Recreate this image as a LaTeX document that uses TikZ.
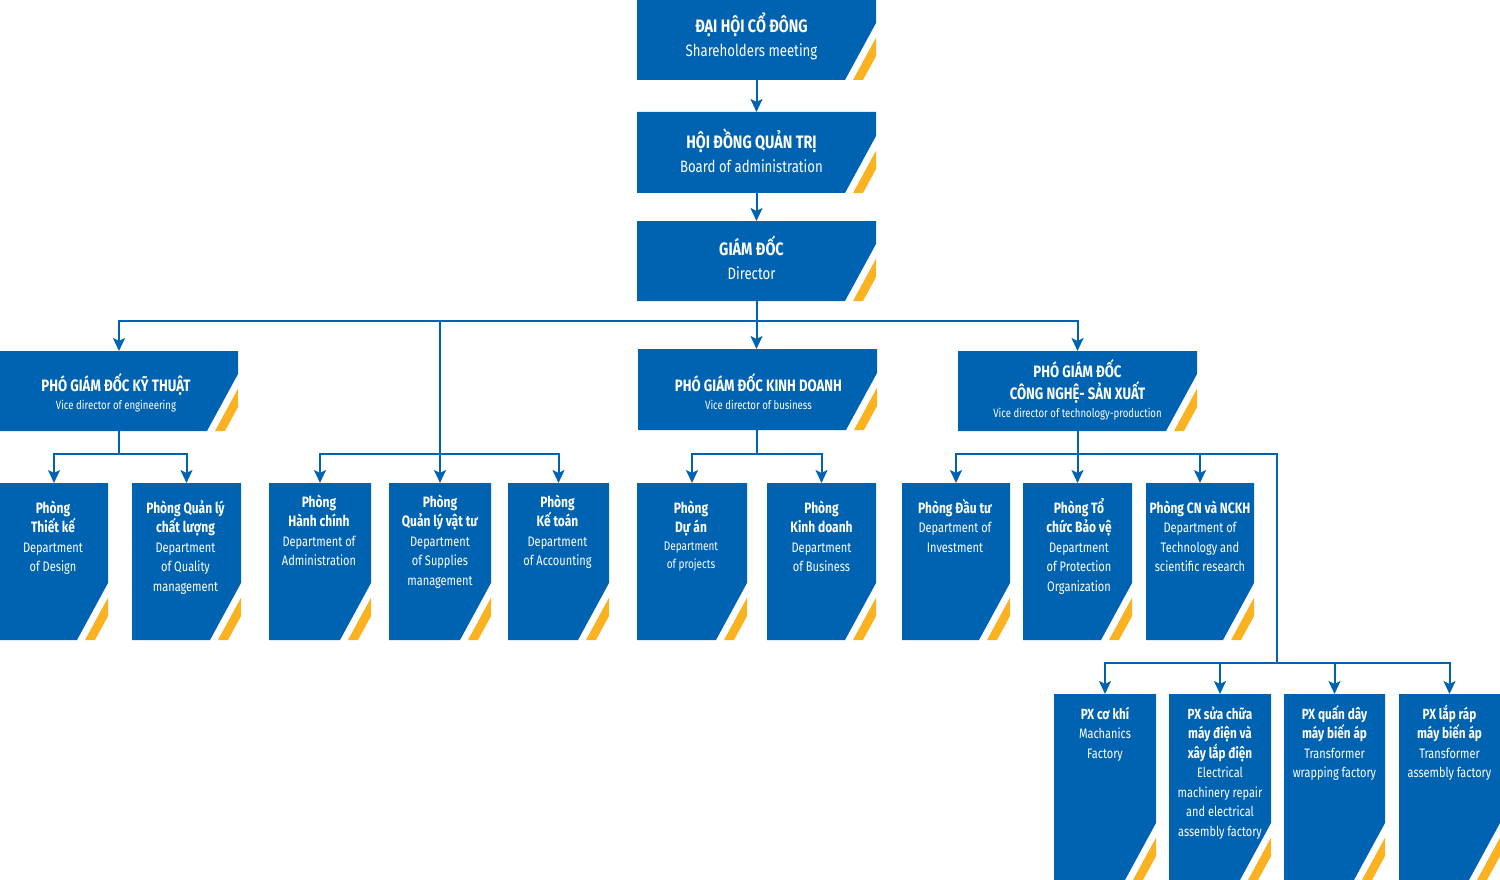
\documentclass[tikz,border=0pt]{standalone}
\usepackage{fontspec}
\setmainfont[FakeStretch=0.8]{Fira Sans}
\usetikzlibrary{arrows.meta,calc}
\definecolor{oblue}{RGB}{0,99,177}
\definecolor{oorange}{RGB}{250,178,32}
\newcommand\boxtext[5]{%
\begin{minipage}[t][#2pt][t]{#1pt}\centering\rightskip=#4pt plus 1fil\relax
\lineskiplimit=-100pt\lineskip=0pt
\vspace*{\dimexpr #3pt - 20pt\relax}\rule{0pt}{20pt}#5\par\end{minipage}}
\newcommand\hf[2]{\fontsize{#1pt}{#2pt}\bfseries\selectfont}
\newcommand\rf[2]{\fontsize{#1pt}{#2pt}\mdseries\selectfont}
\tikzset{
  obox/.style={inner sep=0pt, outer sep=0pt, fill=white, text=white, anchor=north west,
    path picture={
      \fill[oblue] (path picture bounding box.north west) -- (path picture bounding box.north east)
        -- ([yshift=57pt]path picture bounding box.south east) -- ([xshift=-31pt]path picture bounding box.south east)
        -- (path picture bounding box.south west) -- cycle;
      \fill[oorange] ([xshift=-23pt]path picture bounding box.south east) -- ([xshift=-13pt]path picture bounding box.south east)
        -- ([yshift=23.9pt]path picture bounding box.south east) -- ([yshift=42.3pt]path picture bounding box.south east) -- cycle;
    }},
  line/.style={oblue, line width=2pt, line cap=rect},
  conn/.style={oblue, line width=2pt, -{Stealth[length=13pt,width=12pt,inset=3pt]}}
}
\begin{document}
\begin{tikzpicture}[x=1pt,y=-1pt]
\useasboundingbox[fill=white] (0,0) rectangle (1500,880);
\clip (0,0) rectangle (1500,880);
% top chain
\node[obox] (b1) at (637,0) {\boxtext{239}{80}{33}{10}{\hf{18}{24}ĐẠI HỘI CỔ ĐÔNG\\\rf{16.5}{24}Shareholders meeting}};
\node[obox] (b2) at (637,112) {\boxtext{239}{81}{37}{10}{\hf{18}{24}HỘI ĐỒNG QUẢN TRỊ\\\rf{16.5}{24}Board of administration}};
\node[obox] (b3) at (637,221) {\boxtext{239}{80}{35}{10}{\hf{18}{24}GIÁM ĐỐC\\\rf{16.5}{24}Director}};
% vice directors
\node[obox] (v1) at (0,351) {\boxtext{238}{80}{40}{6}{\hf{16.5}{18}PHÓ GIÁM ĐỐC KỸ THUẬT\\\rf{12}{18}Vice director of engineering}};
\node[obox] (v2) at (638,349) {\boxtext{239}{81}{42}{-2}{\hf{16.5}{18}PHÓ GIÁM ĐỐC KINH DOANH\\\rf{12}{18}Vice director of business}};
\node[obox] (v3) at (958,351) {\boxtext{239}{80}{26}{0}{\hf{16.5}{22}PHÓ GIÁM ĐỐC\\CÔNG NGHỆ- SẢN XUẤT\\\rf{12}{18}Vice director of technology-production}};
% departments
\node[obox] (d1) at (0,483) {\boxtext{108}{157}{30}{2}{\hf{15}{19.5}Phòng\\Thiết kế\\\rf{13.8}{19.5}Department\\of Design}};
\node[obox] (d2) at (132,483) {\boxtext{109}{157}{30}{2}{\hf{15}{19.5}Phòng Quản lý\\chất lượng\\\rf{13.8}{19.5}Department\\of Quality\\management}};
\node[obox] (d3) at (269,483) {\boxtext{102}{157}{24}{2}{\hf{15}{19.5}Phòng\\Hành chính\\\rf{13.8}{19.5}Department of\\Administration}};
\node[obox] (d4) at (389,483) {\boxtext{102}{157}{24}{0}{\hf{15}{19.5}Phòng\\Quản lý vật tư\\\rf{13.8}{19.5}Department\\of Supplies\\management}};
\node[obox] (d5) at (508,483) {\boxtext{101}{157}{24}{2}{\hf{15}{19.5}Phòng\\Kế toán\\\rf{13.8}{19.5}Department\\of Accounting}};
\node[obox] (d6) at (637,483) {\boxtext{110}{157}{30}{2}{\hf{15}{19}Phòng\\Dự án\\\rf{12.5}{18}Department\\of projects}};
\node[obox] (d7) at (767,483) {\boxtext{109}{157}{30}{0}{\hf{15}{19.5}Phòng\\Kinh doanh\\\rf{13.8}{19.5}Department\\of Business}};
\node[obox] (d8) at (902,483) {\boxtext{108}{157}{30}{2}{\hf{15}{19.5}Phòng Đầu tư\\\rf{13.8}{19.5}Department of\\Investment}};
\node[obox] (d9) at (1023,483) {\boxtext{109}{157}{30}{-3}{\hf{15}{19.5}Phòng Tổ\\chức Bảo vệ\\\rf{13.8}{19.5}Department\\of Protection\\Organization}};
\node[obox] (d10) at (1146,483) {\boxtext{108}{157}{30}{0}{\hf{15}{19.5}Phòng CN và NCKH\\\rf{13.8}{19.5}Department of\\Technology and\\scientific research}};
% factories
\node[obox] (f1) at (1054,694) {\boxtext{102}{186}{25}{0}{\hf{14.7}{19.5}PX cơ khí\\\rf{13.7}{19.5}Machanics\\Factory}};
\node[obox] (f2) at (1169,694) {\boxtext{102}{186}{25}{0}{\hf{14.7}{19.5}PX sửa chữa\\máy điện và\\xây lắp điện\\\rf{13.7}{19.5}Electrical\\machinery repair\\and electrical\\assembly factory}};
\node[obox] (f3) at (1284,694) {\boxtext{101}{186}{25}{0}{\hf{14.7}{19.5}PX quấn dây\\máy biến áp\\\rf{13.7}{19.5}Transformer\\wrapping factory}};
\node[obox] (f4) at (1399,694) {\boxtext{101}{186}{25}{0}{\hf{14.7}{19.5}PX lắp ráp\\máy biến áp\\\rf{13.7}{19.5}Transformer\\assembly factory}};
% helper coordinates
\coordinate (busy) at (0,321);
\coordinate (r3) at (0,454);
\coordinate (e1) at (1277,454);
\coordinate (e2) at (1277,663);
% connectors
\draw[conn] (b1.south) -- (b2.north);
\draw[conn] (b2.south) -- (b3.north);
\draw[conn] (b3.south) -- (b3.south |- v2.north);
\draw[line] (v1.north |- busy) -- (v3.north |- busy);
\draw[conn] (v1.north |- busy) -- (v1.north);
\draw[conn] (v3.north |- busy) -- (v3.north);
\draw[conn] (d4.north |- busy) -- (d4.north);
% vice director engineering
\draw[line] (v1.south) -- (v1.south |- r3);
\draw[line] (d1.north |- r3) -- (d2.north |- r3);
\draw[conn] (d1.north |- r3) -- (d1.north);
\draw[conn] (d2.north |- r3) -- (d2.north);
% director's departments
\draw[line] (d3.north |- r3) -- (d5.north |- r3);
\draw[conn] (d3.north |- r3) -- (d3.north);
\draw[conn] (d5.north |- r3) -- (d5.north);
% vice director business
\draw[line] (b3.south |- v2.south) -- (b3.south |- r3);
\draw[line] (d6.north |- r3) -- (d7.north |- r3);
\draw[conn] (d6.north |- r3) -- (d6.north);
\draw[conn] (d7.north |- r3) -- (d7.north);
% vice director technology-production
\draw[line] (v3.south) -- (v3.south |- r3);
\draw[line] (d8.north |- r3) -- (e1) -- (e2);
\draw[conn] (d8.north |- r3) -- (d8.north);
\draw[conn] (v3.south |- r3) -- (d9.north);
\draw[conn] (d10.north |- r3) -- (d10.north);
\draw[line] (f1.north |- e2) -- (f4.north |- e2);
\draw[conn] (f1.north |- e2) -- (f1.north);
\draw[conn] (f2.north |- e2) -- (f2.north);
\draw[conn] (f3.north |- e2) -- (f3.north);
\draw[conn] (f4.north |- e2) -- (f4.north);
\end{tikzpicture}
\end{document}
